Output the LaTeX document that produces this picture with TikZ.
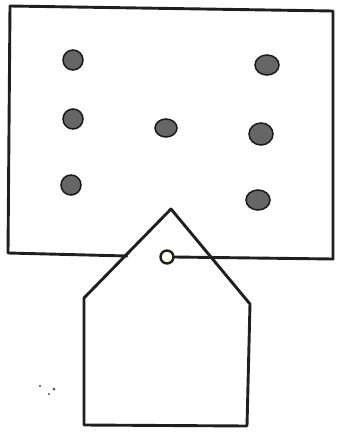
\documentclass[tikz,border=0pt]{standalone}
\begin{document}
\begin{tikzpicture}[x=1pt,y=-1pt,
  edge/.style={draw=black!88,line width=2.9pt,line join=round,line cap=round},
  dot/.style={fill=black!60,draw=black!90,line width=1.5pt},
  speck/.style={fill=black!70}]
\useasboundingbox (0,0) rectangle (339,432);
% frame
\coordinate (bl) at (8,253);
\coordinate (tl) at (10,6);
\coordinate (tr) at (333,11);
\coordinate (br) at (333,259);
\coordinate (hideL) at (127,256);
% dots
\filldraw[dot] (73,60) ellipse (10 and 10);
\filldraw[dot] (73,119) ellipse (10 and 10);
\filldraw[dot] (71,185) ellipse (10 and 10);
\filldraw[dot] (166,128) ellipse (11 and 9);
\filldraw[dot] (267,65) ellipse (12 and 10);
\filldraw[dot] (261,134) ellipse (12 and 11);
\filldraw[dot] (258,200) ellipse (12 and 10);
% tag
\coordinate (apex) at (171,209);
\coordinate (ls) at (84,298);
\coordinate (lb) at (84,425);
\coordinate (rb) at (247,426);
\coordinate (rs) at (250,304);
\draw[edge] (apex) -- (ls) -- (lb) -- (rb) -- (rs) -- cycle;
% ring and string
\node[circle,draw=black!88,fill=yellow!10!white,line width=2.4pt,minimum size=13pt,inner sep=0pt] (ring) at (167,257) {};
\draw[edge] (hideL) -- (bl) -- (tl) -- (tr) -- (br) -- (ring.east);
% specks
\fill[speck] (40,386) circle (1.2);
\fill[speck] (54,389) circle (1.5);
\fill[speck] (49,394) circle (1.2);
\end{tikzpicture}
\end{document}
